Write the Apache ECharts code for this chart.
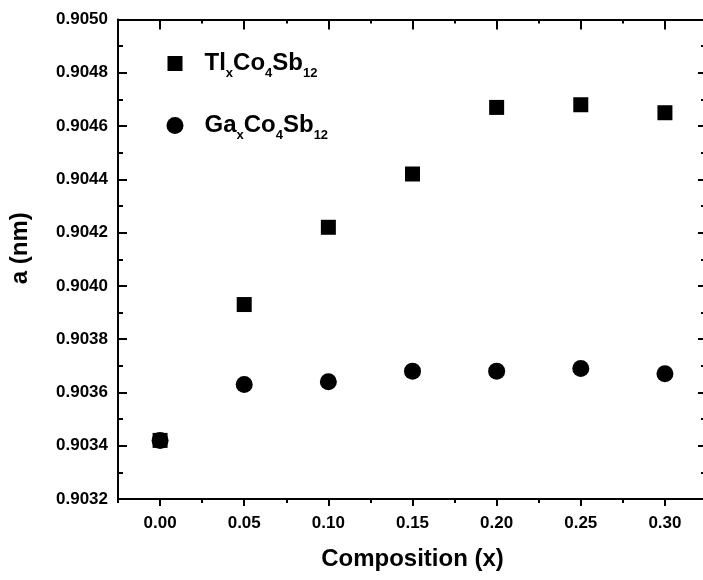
<!DOCTYPE html>
<html>
<head>
<meta charset="utf-8">
<script src="https://cdn.jsdelivr.net/npm/echarts@6/dist/echarts.min.js"></script>
<style>
  html, body { margin: 0; padding: 0; background: #fff; }
  #chart { width: 703px; height: 580px; }
</style>
</head>
<body>
<div id="chart"></div>
<script>
// composition x and lattice parameter a (nm)
const compX = [0, 0.05, 0.10, 0.15, 0.20, 0.25, 0.30]
const tlA = [0.90342, 0.90393, 0.90422, 0.90442, 0.90467, 0.90468, 0.90465]
const gaA = [0.90342, 0.90363, 0.90364, 0.90368, 0.90368, 0.90369, 0.90367]
const xMajor = [0, 0.05, 0.10, 0.15, 0.20, 0.25, 0.30]
const xMinor = [-0.025, 0.025, 0.075, 0.125, 0.175, 0.225, 0.275, 0.325]

const font = '"Liberation Sans", Arial, sans-serif'
const black = '#000'

const richText = {
  g: { width: 17 },
  m: { fontSize: 24, fontWeight: 'bold', fontFamily: font, color: black },
  s: { fontSize: 13, fontWeight: 'bold', fontFamily: font, color: black, padding: [20, 0, 0, 0] }
}

function chem(name) {
  // TlxCo4Sb12 -> rich text with subscripts
  const parts = name.match(/[A-Z][a-z]?|[0-9]+|x/g)
  return '{g| }' + parts.map(p => (/^[0-9]+$|^x$/.test(p) ? '{s|' + p + '}' : '{m|' + p + '}')).join('')
}

function xAxisPart(pos, values, inside, len, main) {
  return {
    type: 'value',
    position: pos,
    min: -0.025,
    max: 0.325,
    axisLine: { show: main, onZero: false, lineStyle: { color: black, width: 2 } },
    axisTick: { show: true, inside: inside, length: len, customValues: values, lineStyle: { color: black, width: 2 } },
    axisLabel: { show: false },
    splitLine: { show: false }
  }
}

const chart = echarts.init(document.getElementById('chart'))
const bottomMajor = xAxisPart('bottom', xMajor, false, 7, true)
bottomMajor.axisLabel = {
  show: true,
  customValues: xMajor,
  margin: 16,
  formatter: v => v.toFixed(2),
  fontSize: 17,
  fontWeight: 'bold',
  fontFamily: font,
  color: black
}
bottomMajor.name = 'Composition (x)'
bottomMajor.nameLocation = 'middle'
bottomMajor.nameGap = 48
bottomMajor.nameTextStyle = { fontSize: 24, fontWeight: 'bold', fontFamily: font, color: black }

chart.setOption({
  animation: false,
  backgroundColor: '#fff',
  grid: { left: 118, right: -4, top: 19.5, bottom: 81, containLabel: false, outerBoundsMode: 'none' },
  legend: [
    {
      data: ['TlxCo4Sb12'],
      left: 167.5,
      top: 51.5,
      padding: 0,
      selectedMode: false,
      icon: 'rect',
      itemWidth: 15,
      itemHeight: 15,
      formatter: chem,
      textStyle: { rich: richText }
    },
    {
      data: ['GaxCo4Sb12'],
      left: 166.5,
      top: 113.5,
      padding: 0,
      selectedMode: false,
      icon: 'circle',
      itemWidth: 17,
      itemHeight: 17,
      formatter: chem,
      textStyle: { rich: Object.assign({}, richText, { g: { width: 16 } }) }
    }
  ],
  xAxis: [
    bottomMajor,
    xAxisPart('bottom', xMinor, false, 4, false),
    xAxisPart('top', xMajor, true, 10, true),
    xAxisPart('top', xMinor, true, 4, false)
  ],
  yAxis: [
    {
      type: 'value',
      position: 'left',
      min: 0.9032,
      max: 0.9050,
      interval: 0.0002,
      axisLine: { show: true, onZero: false, lineStyle: { color: black, width: 2 } },
      axisTick: { show: true, inside: true, length: 9, lineStyle: { color: black, width: 2 } },
      minorTick: { show: true, splitNumber: 2, length: 5, lineStyle: { color: black, width: 2 } },
      axisLabel: {
        margin: 10,
        formatter: v => v.toFixed(4),
        fontSize: 17,
        fontWeight: 'bold',
        fontFamily: font,
        color: black
      },
      splitLine: { show: false },
      name: 'a (nm)',
      nameLocation: 'middle',
      nameGap: 86,
      nameTextStyle: { fontSize: 24, fontWeight: 'bold', fontFamily: font, color: black, padding: [0, 0, 0, 22] }
    },
    {
      type: 'value',
      position: 'right',
      min: 0.9032,
      max: 0.9050,
      interval: 0.0002,
      axisLine: { show: true, onZero: false, lineStyle: { color: black, width: 2 } },
      axisTick: { show: true, inside: true, length: 9, lineStyle: { color: black, width: 2 } },
      minorTick: { show: true, splitNumber: 2, length: 6, lineStyle: { color: black, width: 2 } },
      axisLabel: { show: false },
      splitLine: { show: false }
    }
  ],
  series: [
    {
      name: 'TlxCo4Sb12',
      type: 'scatter',
      symbol: 'rect',
      symbolSize: 15,
      itemStyle: { color: black, opacity: 1 },
      data: compX.map((x, i) => [x, tlA[i]])
    },
    {
      name: 'GaxCo4Sb12',
      type: 'scatter',
      symbol: 'circle',
      symbolSize: 17,
      itemStyle: { color: black, opacity: 1 },
      data: compX.map((x, i) => [x, gaA[i]])
    }
  ]
})
</script>
</body>
</html>
